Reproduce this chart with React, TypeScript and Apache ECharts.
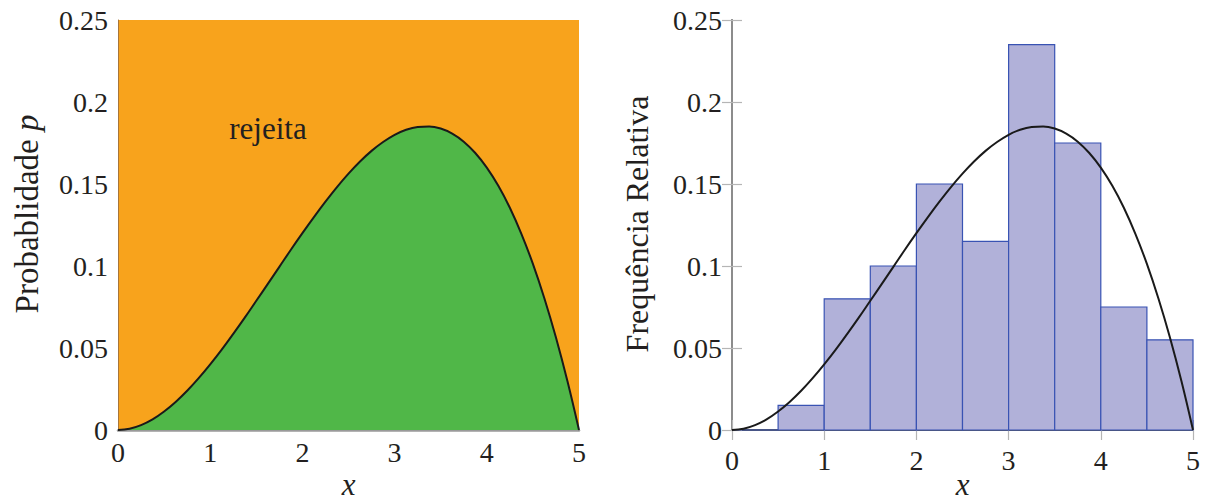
import React, { useEffect, useRef } from "react";
import * as echarts from "echarts";

const curveX = [0, 0.125, 0.25, 0.375, 0.5, 0.625, 0.75, 0.875, 1, 1.125, 1.25, 1.375, 1.5, 1.625, 1.75, 1.875, 2, 2.125, 2.25, 2.375, 2.5, 2.625, 2.75, 2.875, 3, 3.125, 3.25, 3.375, 3.5, 3.625, 3.75, 3.875, 4, 4.125, 4.25, 4.375, 4.5, 4.625, 4.75, 4.875, 5];
const curveY = [0, 0.0008, 0.003, 0.0065, 0.0113, 0.0171, 0.0239, 0.0316, 0.04, 0.049, 0.0586, 0.0685, 0.0788, 0.0891, 0.0995, 0.1099, 0.12, 0.1298, 0.1392, 0.1481, 0.1563, 0.1637, 0.1702, 0.1756, 0.18, 0.1831, 0.1848, 0.1851, 0.1838, 0.1807, 0.1758, 0.1689, 0.16, 0.1489, 0.1355, 0.1196, 0.1013, 0.0802, 0.0564, 0.0297, 0];
const binStart = [0, 0.5, 1, 1.5, 2, 2.5, 3, 3.5, 4, 4.5];
const binEnd = [0.5, 1, 1.5, 2, 2.5, 3, 3.5, 4, 4.5, 5];
const relFreq = [0, 0.015, 0.08, 0.1, 0.15, 0.115, 0.235, 0.175, 0.075, 0.055];
const yTickLabels = ["0", "0.05", "0.1", "0.15", "0.2", "0.25"];
const xTickLabels = ["0", "1", "2", "3", "4", "5"];

const FONT = "Liberation Serif";
const TXT = "#231f20";

export default function App() {
  const ref = useRef<HTMLDivElement>(null);
  useEffect(() => {
    if (!ref.current) return;
    const chart = echarts.init(ref.current, null, { renderer: "svg" });
    const curve = curveX.map((x, i) => [x, curveY[i]]);
    const hist = binStart.map((s, i) => [s, binEnd[i], relFreq[i]]);
    const yFmt = (v: number) => yTickLabels[Math.round(v / 0.05)] ?? "";
    const xFmt = (v: number) => xTickLabels[Math.round(v)] ?? "";
    const labelStyle = { fontFamily: FONT, fontSize: 28, color: TXT };
    const tickStyle = { show: true, length: 10, lineStyle: { color: "#b5b5b5", width: 1.2 } };
    const nameStyle = { fontFamily: FONT, fontSize: 31, lineHeight: 26, fontStyle: "italic", color: TXT };
    chart.setOption({
      animation: false,
      grid: [
        { left: 118, top: 20, width: 461, height: 410, show: true, backgroundColor: "#F8A31C", borderWidth: 0, containLabel: false, outerBoundsMode: "none" },
        { left: 732, top: 20, width: 461, height: 410, show: false, containLabel: false, outerBoundsMode: "none" },
      ],
      xAxis: [
        {
          gridIndex: 0, type: "value", min: 0, max: 5, interval: 1,
          axisLine: { show: true, lineStyle: { color: "#9a9a9a", width: 2.5 } },
          axisTick: { show: false },
          splitLine: { show: false },
          axisLabel: { ...labelStyle, formatter: xFmt, margin: 8 },
          name: "x", nameLocation: "middle", nameGap: 41, nameMoveOverlap: false,
          nameTextStyle: nameStyle,
        },
        {
          gridIndex: 1, type: "value", min: 0, max: 5, interval: 1,
          axisLine: { show: true, lineStyle: { color: "#9a9a9a", width: 2 } },
          axisTick: { ...tickStyle, inside: false },
          splitLine: { show: false },
          axisLabel: { ...labelStyle, formatter: xFmt, margin: 16 },
          name: "x", nameLocation: "middle", nameGap: 41, nameMoveOverlap: false,
          nameTextStyle: nameStyle,
        },
        {
          gridIndex: 1, type: "value", min: 0, max: 5, interval: 1, position: "top",
          axisLine: { show: true, lineStyle: { color: "#444", width: 1.5 } },
          axisTick: { ...tickStyle, inside: false },
          splitLine: { show: false },
          axisLabel: { show: false },
        },
      ],
      yAxis: [
        {
          gridIndex: 0, type: "value", min: 0, max: 0.25, interval: 0.05,
          axisLine: { show: true, lineStyle: { color: "#a8763a", width: 1 } },
          axisTick: { show: false },
          splitLine: { show: false },
          axisLabel: { ...labelStyle, formatter: yFmt, margin: 10 },
        },
        {
          gridIndex: 1, type: "value", min: 0, max: 0.25, interval: 0.05,
          axisLine: { show: true, lineStyle: { color: "#8c8c8c", width: 2 } },
          axisTick: { ...tickStyle, inside: true },
          splitLine: { show: false },
          axisLabel: { ...labelStyle, formatter: yFmt, margin: 10 },
        },
        {
          gridIndex: 1, type: "value", min: 0, max: 0.25, interval: 0.05, position: "right",
          axisLine: { show: true, lineStyle: { color: "#8c8c8c", width: 2 } },
          axisTick: { ...tickStyle, inside: true },
          splitLine: { show: false },
          axisLabel: { show: false },
        },
      ],
      series: [
        {
          type: "line", xAxisIndex: 0, yAxisIndex: 0, data: curve, smooth: 0.4, symbol: "none",
          lineStyle: { color: "#1a1a1a", width: 2 },
          areaStyle: { color: "#50B748", opacity: 1, origin: "start" },
          z: 3,
        },
        {
          type: "custom", xAxisIndex: 1, yAxisIndex: 1, data: hist,
          encode: { x: [0, 1], y: 2 },
          renderItem: (params: any, api: any) => {
            const p0 = api.coord([api.value(0), api.value(2)]);
            const p1 = api.coord([api.value(1), 0]);
            return {
              type: "rect",
              shape: { x: p0[0], y: p0[1], width: p1[0] - p0[0], height: p1[1] - p0[1] },
              style: { fill: "#B1B1D9", stroke: "#3953B3", lineWidth: 1.2 },
            };
          },
          z: 2,
        },
        {
          type: "line", xAxisIndex: 1, yAxisIndex: 1, data: curve, smooth: 0.4, symbol: "none",
          lineStyle: { color: "#1a1a1a", width: 2 },
          z: 4,
        },
      ],
      graphic: [
        { type: "text", x: 268, y: 128, style: { text: "rejeita", fontFamily: FONT, fontSize: 31, fill: TXT, align: "center", verticalAlign: "middle" } },
        { type: "text", x: 383, y: 280, style: { text: "aceita", fontFamily: FONT, fontSize: 31, fill: TXT, align: "center", verticalAlign: "middle" } },
        {
          type: "text", x: 27, y: 214, rotation: Math.PI / 2,
          style: {
            text: "Probablidade {i|p}", fontFamily: FONT, fontSize: 33, fill: TXT, align: "center", verticalAlign: "middle",
            rich: { i: { fontFamily: FONT, fontSize: 33, fontStyle: "italic", fill: TXT } },
          },
        },
        { type: "text", x: 637, y: 224, rotation: Math.PI / 2, style: { text: "Frequência Relativa", fontFamily: FONT, fontSize: 32, fill: TXT, align: "center", verticalAlign: "middle" } },
      ],
    });
    return () => chart.dispose();
  }, []);
  return <div ref={ref} style={{ position: "absolute", left: 0, top: 0, width: 1206, height: 498 }} />;
}
